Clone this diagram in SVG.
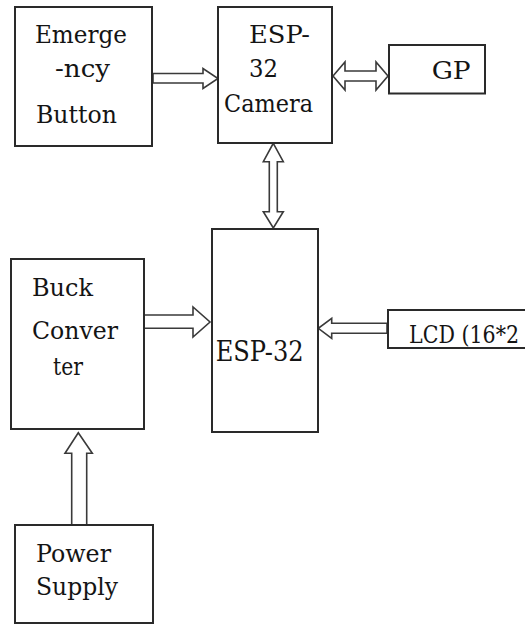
<svg xmlns="http://www.w3.org/2000/svg" width="525" height="625" viewBox="0 0 525 625">
<style>
.box{fill:#fff;stroke:#2a2a2a;stroke-width:2}
.arr{fill:#fff;stroke:#3a3a3a;stroke-width:1.6;stroke-linejoin:miter}
.t{font-family:'DejaVu Serif','Liberation Serif',serif;font-size:23.5px;fill:#141414}
</style>
<rect width="525" height="625" fill="#fff"/>
<g id="connectors">
<polygon class="arr" points="153,73.5 203,73.5 203,68.5 218,78.5 203,88.5 203,83 153,83"/>
<polygon class="arr" points="333,76 345,62 345,71 376,71 376,62 388,76 376,90 376,81 345,81 345,90"/>
<polygon class="arr" points="273.3,143.3 283.3,161.7 277.3,161.7 277.3,211.7 283.3,211.7 273.3,228 263.3,211.7 269.3,211.7 269.3,161.7 263.3,161.7"/>
<polygon class="arr" points="144,315 193,315 193,307 210,322 193,337 193,328.3 144,328.3"/>
<polygon class="arr" points="387,323.3 331.7,323.3 331.7,318.3 318.3,328.3 331.7,338.3 331.7,333.3 387,333.3"/>
<polygon class="arr" points="71.7,525 71.7,453.3 65,453.3 78.3,432.7 92.3,453.3 86.7,453.3 86.7,525"/>
</g>
<g id="emergency">
<rect class="box" x="15" y="7" width="137" height="139"/>
<text class="t" x="35" y="43" textLength="92" lengthAdjust="spacingAndGlyphs">Emerge</text>
<text class="t" x="55" y="77" textLength="55" lengthAdjust="spacingAndGlyphs">-ncy</text>
<text class="t" x="36" y="122.7" textLength="81" lengthAdjust="spacingAndGlyphs">Button</text>
</g>
<g id="camera">
<rect class="box" x="218" y="7" width="114" height="136"/>
<text class="t" x="249" y="43.3" textLength="61" lengthAdjust="spacingAndGlyphs">ESP-</text>
<text class="t" x="249" y="77.3" textLength="29" lengthAdjust="spacingAndGlyphs">32</text>
<text class="t" x="224" y="112.3" textLength="89" lengthAdjust="spacingAndGlyphs">Camera</text>
</g>
<g id="gps">
<rect class="box" x="389" y="45" width="96" height="48.5"/>
<text class="t" x="431.7" y="79.3" textLength="39" lengthAdjust="spacingAndGlyphs">GP</text>
</g>
<g id="buck">
<rect class="box" x="11" y="259" width="133" height="170"/>
<text class="t" x="32" y="296" textLength="61" lengthAdjust="spacingAndGlyphs">Buck</text>
<text class="t" x="32" y="339.3" textLength="86" lengthAdjust="spacingAndGlyphs">Conver</text>
<text class="t" x="53" y="375" textLength="30" lengthAdjust="spacingAndGlyphs">ter</text>
</g>
<g id="esp32">
<rect class="box" x="212" y="229" width="106" height="203"/>
<text class="t" x="215.7" y="360.7" style="font-size:27.5px" textLength="88" lengthAdjust="spacingAndGlyphs">ESP-32</text>
</g>
<g id="lcd">
<path class="box" d="M525,310 H388 V348 H525"/>
<text class="t" x="409" y="342.7" textLength="110" lengthAdjust="spacingAndGlyphs">LCD (16*2</text>
</g>
<g id="power">
<rect class="box" x="15" y="525" width="138" height="98"/>
<text class="t" x="36" y="561.7" textLength="75" lengthAdjust="spacingAndGlyphs">Power</text>
<text class="t" x="36" y="595" textLength="82" lengthAdjust="spacingAndGlyphs">Supply</text>
</g>
</svg>
